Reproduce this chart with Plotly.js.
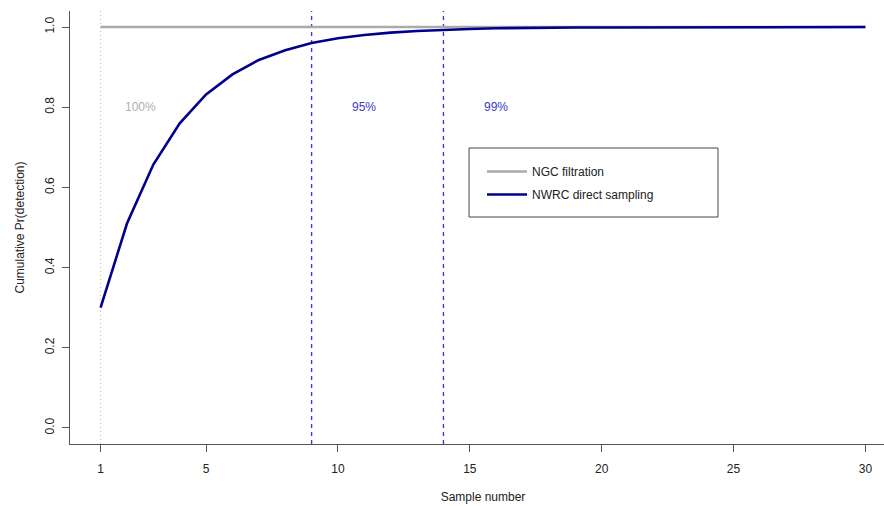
<!DOCTYPE html>
<html>
<head>
<meta charset="utf-8">
<script src="https://cdn.plot.ly/plotly-3.0.1.min.js"></script>
<style>
html,body{margin:0;padding:0;overflow:hidden;background:#fff;width:884px;height:506px;}
#chart{width:896px;height:506px;}
</style>
</head>
<body>
<div id="chart"></div>
<script>
// ---- data ----
var sampleNumber = [1,2,3,4,5,6,7,8,9,10,11,12,13,14,15,16,17,18,19,20,21,22,23,24,25,26,27,28,29,30];
var ngcFiltration = [1,1,1,1,1,1,1,1,1,1,1,1,1,1,1,1,1,1,1,1,1,1,1,1,1,1,1,1,1,1];
var nwrcDirect = [0.300,0.510,0.657,0.760,0.832,0.882,0.918,0.942,0.960,0.972,0.980,0.986,0.990,0.993,0.995,0.997,0.998,0.998,0.999,0.999,0.999,0.9995,0.9996,0.9997,0.9998,0.9999,0.9999,0.9999,1.0,1.0];
var seriesNames = ["NGC filtration", "NWRC direct sampling"];
var thresholdX = [1, 9, 14];
var thresholdLabels = ["100%", "95%", "99%"];
var labelX = [2.5, 11, 16];
var labelY = [0.8, 0.8, 0.8];
var xTicks = [1,5,10,15,20,25,30];
var yTicks = [0,0.2,0.4,0.6,0.8,1.0];
var yTickText = ["0.0","0.2","0.4","0.6","0.8","1.0"];
var yRange = [-0.04, 1.04];

var FONT = "Liberation Sans, Arial, Helvetica, sans-serif";
var GRAY = "#aaaaaa";
var BLUE = "#00008b";
var DASHBLUE = "#3c3cc4";
var AX = "#555555";

var lineStyles = [
  {color: "#b8b8b8", dash: "1px,3px", width: 1},
  {color: DASHBLUE, dash: "4px,4px", width: 1.4},
  {color: DASHBLUE, dash: "4px,4px", width: 1.4}
];

var traces = [];
// vertical reference lines (abline)
for (var i = 0; i < thresholdX.length; i++) {
  traces.push({x: [thresholdX[i], thresholdX[i]], y: yRange, type: "scatter", mode: "lines",
    showlegend: false, hoverinfo: "skip",
    line: {color: lineStyles[i].color, width: lineStyles[i].width, dash: lineStyles[i].dash}});
}
traces.push({x: sampleNumber, y: ngcFiltration, name: seriesNames[0], type: "scatter", mode: "lines",
   line: {color: GRAY, width: 2.6}, legendgroup: "a"});
traces.push({x: sampleNumber, y: nwrcDirect, name: seriesNames[1], type: "scatter", mode: "lines",
   line: {color: BLUE, width: 2.6}, legendgroup: "b"});

var shapes = [];
// legend box
shapes.push({type: "rect", xref: "paper", yref: "paper", x0: 0.4831, x1: 0.7845, y0: 0.5242, y1: 0.6836,
  line: {color: "#444444", width: 1}, fillcolor: "rgba(0,0,0,0)"});

var labelColors = ["#b0b0b0", DASHBLUE, DASHBLUE];
var annotations = [];
for (var j = 0; j < thresholdLabels.length; j++) {
  annotations.push({x: labelX[j], y: labelY[j], xref: "x", yref: "y", text: thresholdLabels[j],
    showarrow: false, font: {family: FONT, size: 12, color: labelColors[j]}});
}

var layout = {
  width: 896, height: 506,
  margin: {l: 70, r: 0, t: 11, b: 62, pad: 0},
  paper_bgcolor: "#ffffff", plot_bgcolor: "#ffffff",
  font: {family: FONT, size: 12, color: "#222222"},
  showlegend: true,
  legend: {x: 0.4988, y: 0.6628, xanchor: "left", yanchor: "top", bgcolor: "rgba(0,0,0,0)",
    borderwidth: 0, itemwidth: 40, tracegroupgap: 4, font: {family: FONT, size: 12, color: "#222222"}},
  xaxis: {range: [-0.16, 31.16], showgrid: false, zeroline: false, showline: true, linecolor: AX, linewidth: 1,
    ticks: "outside", ticklen: 7, tickcolor: AX, tickwidth: 1, tickmode: "array", tickvals: xTicks,
    ticklabelstandoff: 7,
    tickfont: {family: FONT, size: 12, color: "#222222"},
    title: {text: "Sample number", font: {family: FONT, size: 12, color: "#222222"}, standoff: 17}},
  yaxis: {range: yRange, showgrid: false, zeroline: false, showline: true, linecolor: AX, linewidth: 1,
    ticks: "outside", ticklen: 7, tickcolor: AX, tickwidth: 1, tickmode: "array", tickvals: yTicks, ticktext: yTickText,
    tickangle: -90, ticklabelstandoff: 3, tickfont: {family: FONT, size: 12, color: "#222222"},
    title: {text: "Cumulative Pr(detection)", font: {family: FONT, size: 12, color: "#222222"}, standoff: 16}},
  shapes: shapes,
  annotations: annotations
};

Plotly.newPlot("chart", traces, layout, {displayModeBar: false, staticPlot: true});
</script>
</body>
</html>
